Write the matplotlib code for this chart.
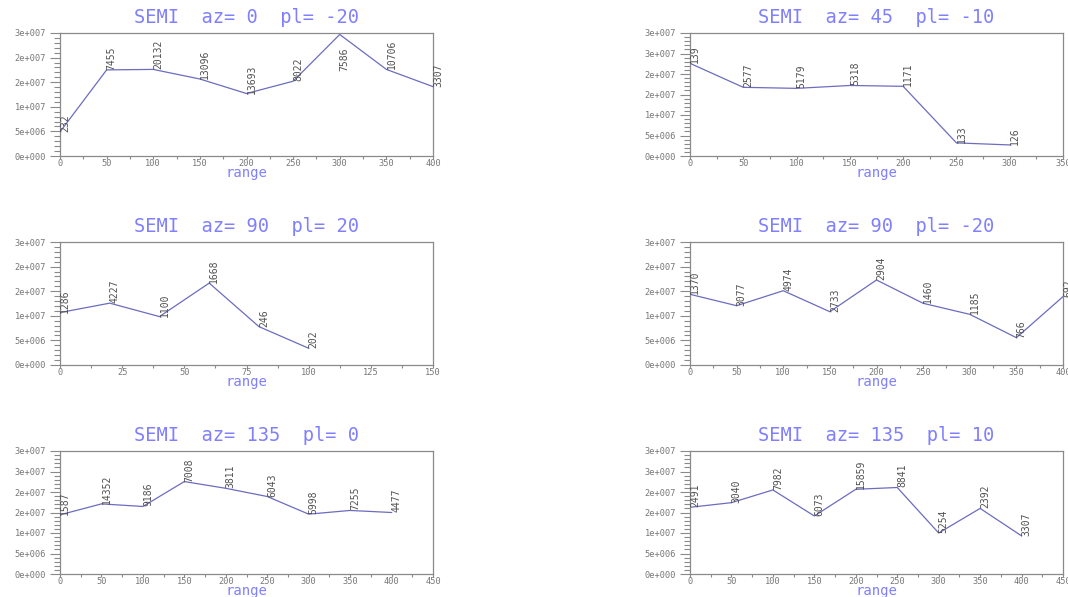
#!/usr/bin/env python3
# -*- coding: utf-8 -*-
"""plot.py — 6 semivariogram panels (SEMI az/pl), with number of pairs per lag"""
import math

import matplotlib
matplotlib.use("Agg")
import matplotlib.pyplot as plt
from matplotlib.ticker import AutoMinorLocator, FuncFormatter, MultipleLocator

# ------- data -------
titles = ["SEMI  az= 0  pl= -20", "SEMI  az= 45  pl= -10",
          "SEMI  az= 90  pl= 20", "SEMI  az= 90  pl= -20",
          "SEMI  az= 135  pl= 0", "SEMI  az= 135  pl= 10"]

lag_1 = [0, 50, 100, 150, 200, 250, 300, 350, 400]
gam_1 = [4.9e6, 1.75e7, 1.76e7, 1.565e7, 1.27e7, 1.52e7, 2.47e7, 1.76e7, 1.41e7]
npr_1 = ["232", "7455", "20132", "13096", "13693", "8022", "7586", "10706", "3307"]

lag_2 = [0, 50, 100, 150, 200, 250, 300]
gam_2 = [2.26e7, 1.675e7, 1.65e7, 1.72e7, 1.70e7, 3.2e6, 2.7e6]
npr_2 = ["139", "2577", "5179", "5318", "1171", "133", "126"]

lag_3 = [0, 20, 40, 60, 80, 100]
gam_3 = [1.066e7, 1.257e7, 9.84e6, 1.665e7, 7.8e6, 3.4e6]
npr_3 = ["1286", "4227", "1100", "1668", "246", "202"]

lag_4 = [0, 50, 100, 150, 200, 250, 300, 350, 400]
gam_4 = [1.437e7, 1.205e7, 1.51e7, 1.083e7, 1.728e7, 1.254e7, 1.03e7, 5.55e6, 1.39e7]
npr_4 = ["1370", "3077", "4974", "2733", "2904", "1460", "1185", "766", "692"]

lag_5 = [0, 50, 100, 150, 200, 250, 300, 350, 400]
gam_5 = [1.443e7, 1.71e7, 1.647e7, 2.255e7, 2.09e7, 1.89e7, 1.46e7, 1.55e7, 1.50e7]
npr_5 = ["1587", "14352", "9186", "7008", "3811", "6043", "5998", "7255", "4477"]

lag_6 = [0, 50, 100, 150, 200, 250, 300, 350, 400]
gam_6 = [1.627e7, 1.74e7, 2.05e7, 1.415e7, 2.066e7, 2.11e7, 1.0e7, 1.6e7, 9.3e6]
npr_6 = ["2491", "3040", "7982", "6073", "15859", "8841", "5254", "2392", "3307"]

x_max = [400, 350, 150, 400, 450, 450]
x_step = [50, 50, 25, 50, 50, 50]
y_max = [2.5e7, 3e7, 2.5e7, 2.5e7, 3e7, 3e7]

BLUE = "#8080ff"
LINE = "#6c6cc0"
GRAY = "#8a8a8a"
MONO = "DejaVu Sans Mono"


def fmt_e(v, pos=None):
    # old-style 3 digit exponent, round half up (1.5e7 -> 2e+007)
    if v <= 0:
        return "0e+000"
    e = int(math.floor(math.log10(v) + 1e-9))
    m = int(math.floor(v / 10 ** e + 0.5))
    if m == 10:
        m, e = 1, e + 1
    return f"{m}e+{e:03d}"


def main():
    data = [(lag_1, gam_1, npr_1), (lag_2, gam_2, npr_2), (lag_3, gam_3, npr_3),
            (lag_4, gam_4, npr_4), (lag_5, gam_5, npr_5), (lag_6, gam_6, npr_6)]

    fig = plt.figure(figsize=(10.68, 5.97), dpi=100)
    lefts = [60 / 1068, 690 / 1068]
    bottoms = [(597 - 156) / 597, (597 - 365) / 597, (597 - 574) / 597]
    w, h = 373 / 1068, 123 / 597

    for i, (lag, gam, npr) in enumerate(data):
        ax = fig.add_axes([lefts[i % 2], bottoms[i // 2], w, h])
        ax.plot(lag, gam, "-", color=LINE, lw=0.9)
        ym = y_max[i]
        for x, g, s in zip(lag, gam, npr):
            if g > 0.9 * ym:   # peak: label would leave the box -> hang below top
                ax.text(x, 0.885 * ym, s, rotation=90, ha="left", va="top",
                        fontsize=7, family=MONO, color="#505050", clip_on=False)
            else:
                ax.text(x, g, s, rotation=90, ha="left", va="bottom",
                        fontsize=7, family=MONO, color="#505050", clip_on=False)

        ax.set_xlim(0, x_max[i])
        ax.set_ylim(0, ym)
        ax.xaxis.set_major_locator(MultipleLocator(x_step[i]))
        ax.xaxis.set_minor_locator(AutoMinorLocator(2))
        ax.yaxis.set_major_locator(MultipleLocator(5e6))
        ax.yaxis.set_minor_locator(AutoMinorLocator(5))
        ax.yaxis.set_major_formatter(FuncFormatter(fmt_e))
        ax.tick_params(which="both", direction="out", color=GRAY, width=0.8,
                       labelcolor="#777777", labelsize=6.2)
        ax.tick_params(axis="y", which="major", length=7, pad=3)
        ax.tick_params(axis="y", which="minor", length=4)
        ax.tick_params(axis="x", which="major", length=2.5, pad=-0.5)
        ax.tick_params(axis="x", which="minor", length=2.5)
        for lab in ax.get_xticklabels() + ax.get_yticklabels():
            lab.set_family(MONO)
        for sp in ax.spines.values():
            sp.set_color(GRAY)
            sp.set_linewidth(0.9)

        ax.set_title(titles[i], family=MONO, fontsize=13.5, color=BLUE, pad=7)
        ax.set_xlabel("range", family=MONO, fontsize=10, color=BLUE, labelpad=-1)

    fig.savefig("out.png", dpi=100)
    plt.close(fig)


if __name__ == "__main__":
    main()
